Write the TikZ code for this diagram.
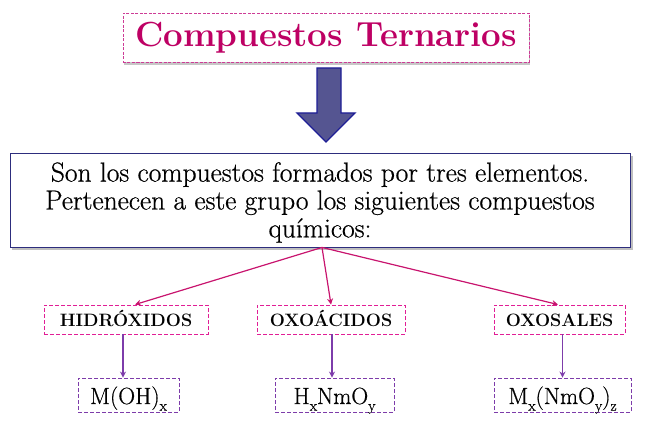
\documentclass[tikz,border=0pt]{standalone}
\usepackage{fontspec}
\usetikzlibrary{arrows.meta,shadows}
\newfontfamily\heavyrm[FakeBold=0.6]{Latin Modern Roman}
\definecolor{titlecol}{RGB}{190,0,100}
\definecolor{titlebord}{RGB}{205,60,150}
\definecolor{catbord}{RGB}{225,30,150}
\definecolor{magarrow}{RGB}{200,20,110}
\definecolor{purp}{RGB}{125,60,170}
\definecolor{bigfill}{RGB}{85,85,145}
\definecolor{bigbord}{RGB}{30,30,150}
\definecolor{mainbord}{RGB}{45,45,125}
\tikzset{
  titlebox/.style={draw=titlebord, line width=0.9bp, dash pattern=on 3bp off 1.5bp, fill=white,
    general shadow={shadow xshift=1bp, shadow yshift=-3bp, fill=black!22},
    inner sep=0pt, text=titlecol, text height=19bp, text depth=0bp,
    font=\fontsize{35}{40}\selectfont\bfseries},
  mainbox/.style={draw=mainbord, line width=0.9bp, fill=white,
    general shadow={shadow xshift=2.5bp, shadow yshift=-3bp, fill=black!25}, inner sep=0pt},
  maintext/.style={align=center, inner sep=0pt, font=\fontsize{27.6}{28}\heavyrm},
  catbox/.style={draw=catbord, line width=0.9bp, dash pattern=on 4bp off 2bp, inner sep=0pt,
    minimum height=29bp, text height=14bp, text depth=0bp, font=\fontsize{18}{20}\selectfont\bfseries},
  formbox/.style={draw=purp, line width=0.9bp, dash pattern=on 4bp off 2bp, inner sep=0pt,
    minimum height=34bp, text height=18bp, text depth=0bp, font=\fontsize{23.5}{26}\heavyrm},
  magline/.style={draw=magarrow, line width=1.2bp, -{Stealth[length=6bp,width=6bp]}},
  purpline/.style={draw=purp, line width=1.2bp, -{Stealth[length=6bp,width=6bp]}},
  bigarrow/.style={fill=bigfill, draw=bigbord, line width=1.3bp, line join=miter}
}
\newcommand{\sbs}[1]{\raisebox{-0.28em}{\fontsize{15}{15}\heavyrm #1}}
\begin{document}
\begin{tikzpicture}[x=1bp,y=-1bp]
\useasboundingbox (0,0) rectangle (657,441);
% title
\node[titlebox, minimum width=406bp, minimum height=49bp] (title) at (326,37.5) {Compuestos Ternarios};
% big arrow
\draw[bigarrow] (317,68) -- (341,68) -- (341,113) -- (355,113) -- (326,142) -- (297,113) -- (317,113) -- cycle;
% main box
\node[mainbox, minimum width=620bp, minimum height=94bp] (main) at (320,200) {};
\node[maintext] (desc) at (320,202.5) {Son los compuestos formados por tres elementos.\\Pertenecen a este grupo los siguientes compuestos\\químicos:};
% categories
\node[catbox, minimum width=164bp] (hid) at (126,319.5) {HIDRÓXIDOS};
\node[catbox, minimum width=148bp] (oxa) at (331,319.5) {OXOÁCIDOS};
\node[catbox, minimum width=131bp] (oxs) at (559.5,319.5) {OXOSALES};
% formulas
\node[formbox, minimum width=101bp] (f1) at (128.5,395) {M(OH)\sbs{x}};
\node[formbox, minimum width=119bp] (f2) at (334.5,395) {H\sbs{x}NmO\sbs{y}\hspace{8bp}};
\node[formbox, minimum width=137bp] (f3) at (562.5,395) {M\sbs{x}(NmO\sbs{y})\sbs{z}\hspace{3bp}};
% connectors
\draw[magline] ([xshift=2bp]main.south) -- ([xshift=9bp]hid.north);
\draw[magline] ([xshift=2bp]main.south) -- (oxa.north);
\draw[magline] ([xshift=2bp]main.south) -- ([xshift=-1.5bp]oxs.north);
\draw[purpline] ([xshift=-3bp]hid.south) -- ([xshift=-3bp]hid.south |- f1.north);
\draw[purpline] ([xshift=1bp]oxa.south) -- ([xshift=1bp]oxa.south |- f2.north);
\draw[purpline] (oxs.south -| f3.north) -- (f3.north);
\end{tikzpicture}
\end{document}
